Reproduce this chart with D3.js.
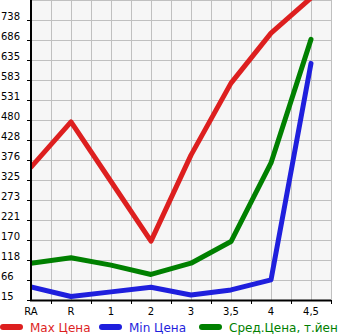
<!DOCTYPE html>
<html><head><meta charset="utf-8">
<script src="https://cdn.jsdelivr.net/npm/d3@7"></script>
<style>body{margin:0;background:#fff}svg{display:block}</style>
</head><body>
<svg id="c" width="345" height="335"></svg>
<script>
const categories = ["RA","R","1","2","3","3,5","4","4,5"];
const maxPrice = [358, 475, 321, 167, 389, 575, 704, 795];
const minPrice = [49, 24, 36, 48, 28, 41, 67, 626];
const avgPrice = [110, 124, 105, 81, 110, 166, 369, 688];
const yTickLabels = ["15","66","118","170","221","273","325","376","428","480","531","583","635","686","738"];
const seriesNames = ["Max Цена","Min Цена","Сред.Цена, т.йен"];
const seriesColors = ["#dd1f1f","#1f1fdd","#008000"];

const svg = d3.select("#c");
const L = 31, R = 331, T = 0, B = 300;
const step = 723/14;
const x = d3.scalePoint().domain(categories).range([L, L + 40*(categories.length-1)]);
const y = d3.scaleLinear().domain([15, 15 + step*15]).range([B, T]);

svg.append("defs").append("clipPath").attr("id", "clip")
  .append("rect").attr("x", L).attr("y", T).attr("width", R-L).attr("height", B-T+5);

svg.append("rect").attr("x", L).attr("y", T).attr("width", R-L).attr("height", B-T).attr("fill", "#f6f6f6");

const g = svg.append("g");
const half = x.step()/2;
const vx = d3.range(0, 16).map(i => L + i*half);
g.selectAll("line.vg").data(vx).enter().append("line")
  .attr("x1", d=>d+0.5).attr("x2", d=>d+0.5).attr("y1", T).attr("y2", B)
  .attr("stroke", "#c0c0c0").attr("stroke-width", 1);
const hy = d3.range(0, 16).map(i => 15 + i*step);
g.selectAll("line.hg").data(hy).enter().append("line")
  .attr("x1", L).attr("x2", R).attr("y1", d=>Math.round(y(d))+0.5).attr("y2", d=>Math.round(y(d))+0.5)
  .attr("stroke", "#c0c0c0").attr("stroke-width", 1);

const series = [maxPrice, minPrice, avgPrice];
const line = d3.line().x((d,i)=>x(categories[i])).y(d=>y(d));
const lg = svg.append("g").attr("clip-path", "url(#clip)");
series.forEach((s, k) => {
  lg.append("path").attr("d", line(s)).attr("fill", "none")
    .attr("stroke", seriesColors[k]).attr("stroke-width", 5)
    .attr("stroke-linejoin", "round").attr("stroke-linecap", "round");
});

svg.append("line").attr("x1", L).attr("x2", L).attr("y1", T).attr("y2", B+1).attr("stroke", "#000").attr("stroke-width", 2);
svg.append("line").attr("x1", L-1).attr("x2", R).attr("y1", B+0.5).attr("y2", B+0.5).attr("stroke", "#000").attr("stroke-width", 2);
svg.selectAll("line.yt").data(yTickLabels).enter().append("line")
  .attr("x1", L-4).attr("x2", L).attr("y1", d=>Math.round(y(+d))+0.5).attr("y2", d=>Math.round(y(+d))+0.5)
  .attr("stroke", "#000");
svg.selectAll("text.yl").data(yTickLabels).enter().append("text")
  .attr("x", 1).attr("y", d=>Math.round(y(+d))-0.5)
  .attr("font-family", "DejaVu Sans").attr("font-size", 10).attr("fill", "#000").text(d=>d);
const xt = d3.range(0, 8).map(i => L + half + i*x.step());
svg.selectAll("line.xt").data(xt).enter().append("line")
  .attr("x1", d=>d+0.5).attr("x2", d=>d+0.5).attr("y1", B).attr("y2", B+4).attr("stroke", "#000");
svg.selectAll("text.xl").data(categories).enter().append("text")
  .attr("x", d=>x(d)).attr("y", 315).attr("text-anchor", "middle")
  .attr("font-family", "DejaVu Sans").attr("font-size", 10).attr("fill", "#000").text(d=>d);

const lx = [0, 99, 199];
seriesNames.forEach((n, k) => {
  svg.append("line").attr("x1", lx[k]+3).attr("x2", lx[k]+20).attr("y1", 327).attr("y2", 327)
    .attr("stroke", seriesColors[k]).attr("stroke-width", 6).attr("stroke-linecap", "round");
  svg.append("text").attr("x", lx[k]+30).attr("y", 332)
    .attr("font-family", "DejaVu Sans").attr("font-size", 12).attr("fill", seriesColors[k]).text(n);
});
</script>
</body></html>
